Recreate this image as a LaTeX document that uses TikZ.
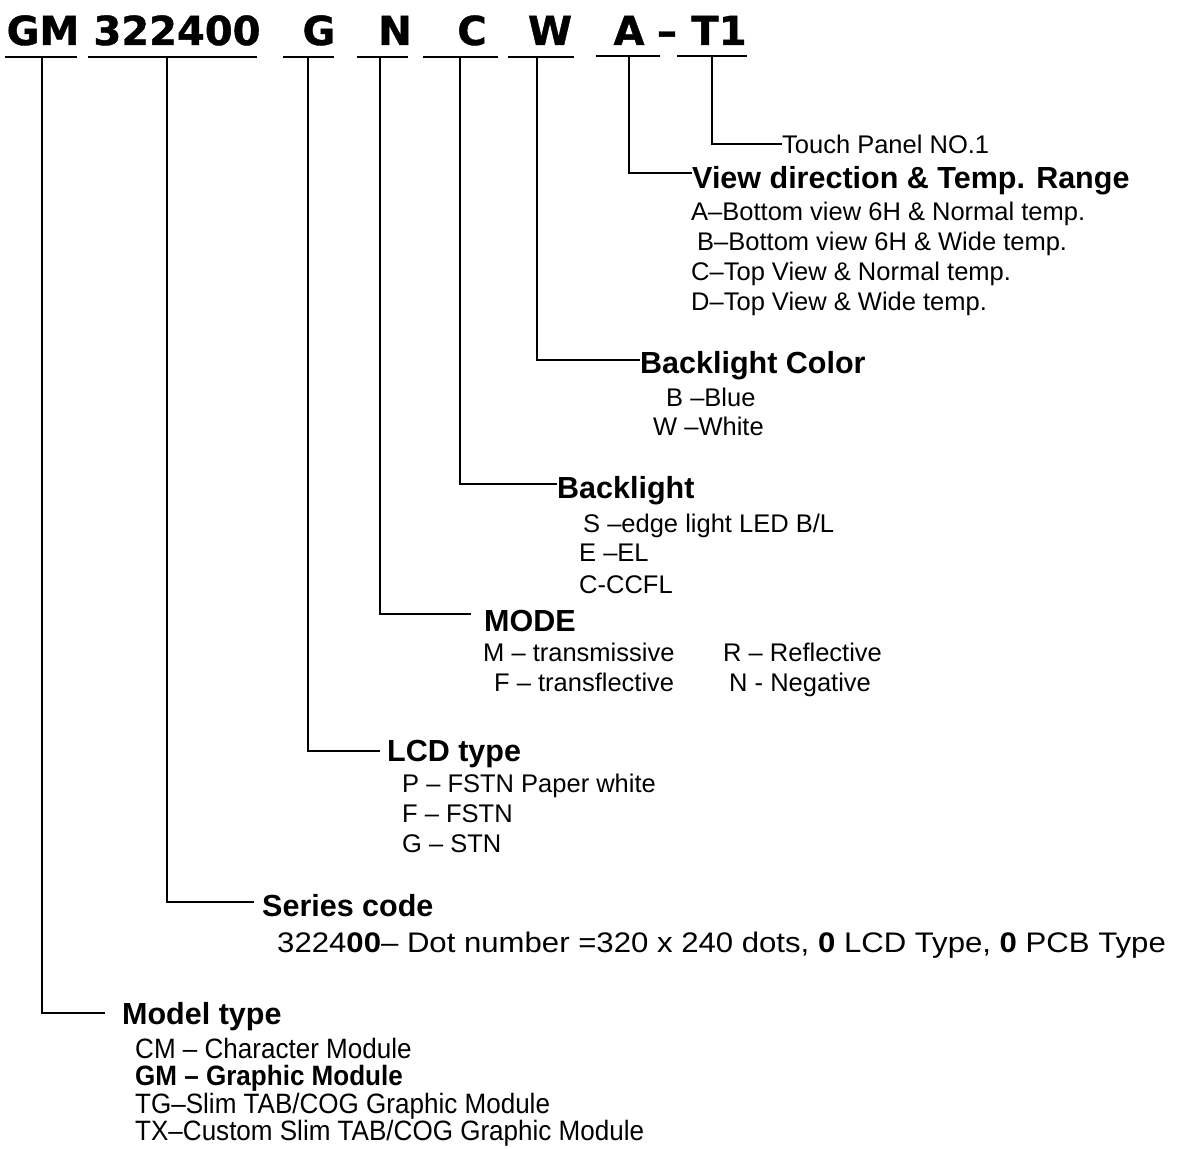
\documentclass[tikz,border=0pt]{standalone}
\usepackage{fontspec}
\setmainfont{Liberation Sans}
\newfontfamily\hdrfont[FakeBold=1]{DejaVu Sans}
\newfontfamily\descfont[FakeStretch=1.1]{Liberation Sans}
\newfontfamily\modfont[FakeStretch=0.93]{Liberation Sans}
\tikzset{
  hdr/.style={anchor=base, inner sep=0pt, font=\hdrfont\bfseries\fontsize{40}{44}\selectfont},
  ttl/.style={anchor=base west, inner sep=0pt, font=\bfseries\fontsize{30.5}{36}\selectfont},
  lbl/.style={anchor=base west, inner sep=0pt, font=\fontsize{25.5}{30}\selectfont},
  mlbl/.style={anchor=base west, inner sep=0pt, font=\modfont\fontsize{28}{32}\selectfont},
  dlbl/.style={anchor=base west, inner sep=0pt, font=\descfont\fontsize{28.3}{32}\selectfont},
  conn/.style={line width=2pt, black},
  uline/.style={line width=2.6pt, black},
}
\begin{document}
\begin{tikzpicture}[x=1pt,y=1pt]
\useasboundingbox (0,0) rectangle (1182,-1148);

% header code
\node[hdr] (hGM) at (43,-45) {GM};
\node[hdr] (hSer) at (177,-45) {322400};
\node[hdr] (hG) at (319,-45) {G};
\node[hdr] (hN) at (395,-45) {N};
\node[hdr] (hC) at (472,-45) {C};
\node[hdr] (hW) at (550,-45) {W};
\node[hdr] (hA) at (629,-45) {A};
\node[hdr] (hDash) at (667,-45) {–};
\node[hdr] (hT) at (719,-45) {T1};

% underlines
\draw[uline] (5,-57) -- (77,-57);
\draw[uline] (88,-57) -- (257,-57);
\draw[uline] (283,-57) -- (334,-57);
\draw[uline] (357,-57) -- (408,-57);
\draw[uline] (423,-57) -- (498,-57);
\draw[uline] (508,-57) -- (574,-57);
\draw[uline] (596,-56) -- (660,-56);
\draw[uline] (677,-56) -- (747,-56);

% connector start points
\coordinate (uGM) at (42,-57);
\coordinate (uSer) at (167,-57);
\coordinate (uG) at (308,-57);
\coordinate (uN) at (380,-57);
\coordinate (uC) at (460,-57);
\coordinate (uW) at (537,-57);
\coordinate (uA) at (629,-57);
\coordinate (uT) at (712,-57);

% T1
\node[lbl] (touch) at (782,-153.6) {Touch Panel NO.1};
\draw[conn] (uT) |- ([yshift=9.6pt]touch.base west);

% A
\node[ttl] (view) at (692,-188.4) {View direction \& Temp. Range};
\node[lbl] (vA) at (691,-220) {A–Bottom view 6H \& Normal temp.};
\node[lbl] (vB) at (697,-250) {B–Bottom view 6H \& Wide temp.};
\node[lbl] (vC) at (691,-280) {C–Top View \& Normal temp.};
\node[lbl] (vD) at (691,-310) {D–Top View \& Wide temp.};
\draw[conn] (uA) |- ([yshift=15.4pt]view.base west);

% W
\node[ttl] (blc) at (640,-373.4) {Backlight Color};
\node[lbl] (blcB) at (666,-406) {B –Blue};
\node[lbl] (blcW) at (653,-435) {W –White};
\draw[conn] (uW) |- ([yshift=13.4pt]blc.base west);

% C
\node[ttl] (bl) at (557,-498.4) {Backlight};
\node[lbl] (blS) at (583,-532) {S –edge light LED B/L};
\node[lbl] (blE) at (579,-561) {E –EL};
\node[lbl] (blC) at (579,-593) {C-CCFL};
\draw[conn] (uC) |- ([yshift=14.4pt]bl.base west);

% N
\node[ttl] (mode) at (484,-631) {MODE};
\node[lbl] (mM) at (483,-661) {M – transmissive};
\node[lbl] (mF) at (494,-691) {F – transflective};
\node[lbl] (mR) at (723,-661) {R – Reflective};
\node[lbl] (mN) at (729,-691) {N - Negative};
\draw[conn] (uN) |- ([xshift=-13pt,yshift=17pt]mode.base west);

% G
\node[ttl] (lcd) at (387,-761) {LCD type};
\node[lbl] (lP) at (402,-792) {P – FSTN Paper white};
\node[lbl] (lF) at (402,-822) {F – FSTN};
\node[lbl] (lG) at (402,-852) {G – STN};
\draw[conn] (uG) |- ([xshift=-7pt,yshift=10pt]lcd.base west);

% 322400
\node[ttl] (ser) at (262,-916.4) {Series code};
\node[dlbl] (serD) at (277,-952) {3224\textbf{00}– Dot number =320 x 240 dots, \textbf{0} LCD Type, \textbf{0} PCB Type};
\draw[conn] (uSer) |- ([xshift=-8pt,yshift=14.4pt]ser.base west);

% GM
\node[ttl] (mod) at (122,-1024) {Model type};
\node[mlbl] (mCM) at (135,-1058) {CM – Character Module};
\node[mlbl] (mGM) at (135,-1085) {\textbf{GM – Graphic Module}};
\node[mlbl] (mTG) at (135,-1113) {TG–Slim TAB/COG Graphic Module};
\node[mlbl] (mTX) at (135,-1140) {TX–Custom Slim TAB/COG Graphic Module};
\draw[conn] (uGM) |- ([xshift=-17pt,yshift=11pt]mod.base west);
\end{tikzpicture}
\end{document}
